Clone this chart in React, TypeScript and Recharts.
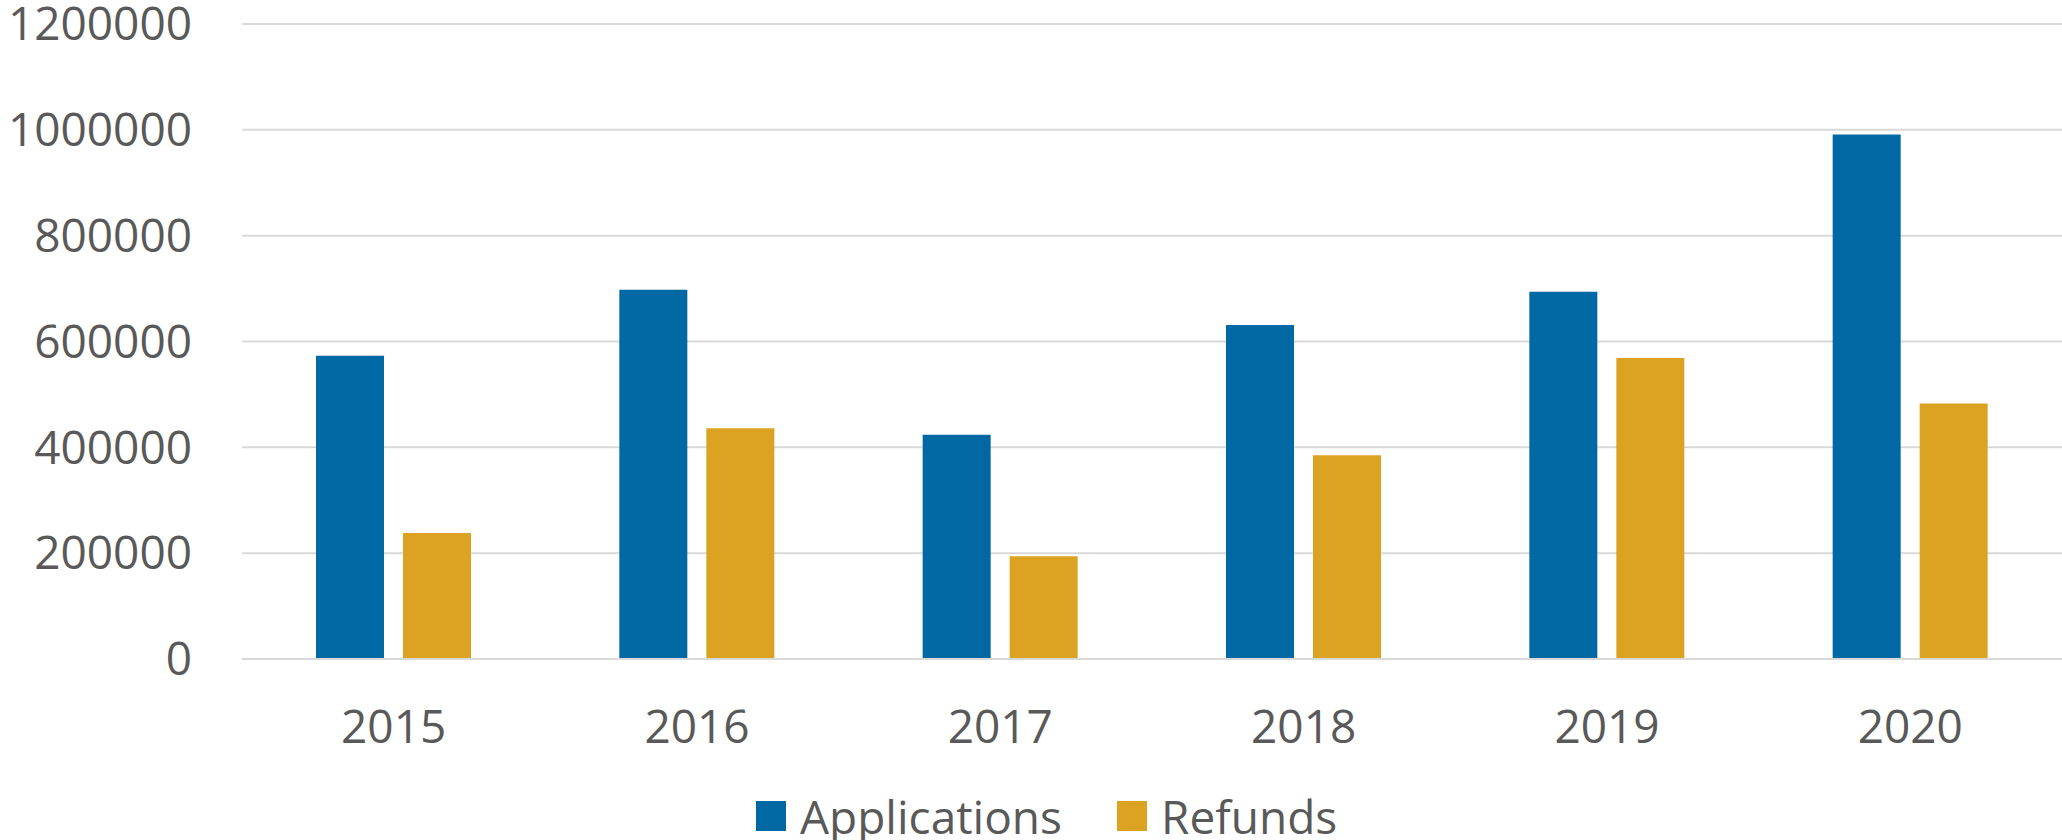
import React from "react";
import { BarChart, Bar, XAxis, YAxis, CartesianGrid } from "recharts";

const years = ["2015", "2016", "2017", "2018", "2019", "2020"];
const applications = [573000, 698000, 424000, 631000, 694000, 991000];
const refunds = [238000, 436000, 194000, 385000, 569000, 483000];
const yTicks = [0, 200000, 400000, 600000, 800000, 1000000, 1200000];

const series = [
  { key: "applications", name: "Applications", color: "#0069A4" },
  { key: "refunds", name: "Refunds", color: "#DCA221" },
];

const data = years.map((year, i) => ({
  year,
  applications: applications[i],
  refunds: refunds[i],
}));

const font = "'Open Sans', sans-serif";
const textColor = "#595959";

export default function App() {
  return (
    <div style={{ position: "absolute", left: 0, top: 0, width: 2062, height: 840, background: "#fff", fontFamily: font }}>
      <BarChart
        width={2062}
        height={840}
        data={data}
        margin={{ top: 24, right: 0, left: 0, bottom: 81 }}
        barSize={68}
        barGap={19}
      >
        <CartesianGrid vertical={false} stroke="#d9d9d9" strokeWidth={2} />
        <XAxis
          dataKey="year"
          height={100}
          tickLine={false}
          tickSize={0}
          tickMargin={51}
          axisLine={{ stroke: "#d9d9d9", strokeWidth: 2 }}
          tick={{ fill: textColor, fontSize: 46, fontFamily: font }}
        />
        <YAxis
          width={242}
          domain={[0, 1200000]}
          ticks={yTicks}
          interval={0}
          tickLine={false}
          axisLine={false}
          tickSize={0}
          tickMargin={50}
          tick={{ fill: textColor, fontSize: 46, fontFamily: font }}
        />
        {series.map((s) => (
          <Bar key={s.key} dataKey={s.key} name={s.name} fill={s.color} isAnimationActive={false} />
        ))}
      </BarChart>
      <div
        style={{
          position: "absolute",
          left: 756,
          top: 793,
          height: 46,
          display: "flex",
          alignItems: "center",
          fontSize: 46,
          lineHeight: 1,
          color: textColor,
        }}
      >
        {series.map((s, i) => (
          <div key={s.key} style={{ display: "flex", alignItems: "center", marginLeft: i === 0 ? 0 : 55 }}>
            <div style={{ width: 30, height: 30, background: s.color, marginRight: 14 }} />
            <span>{s.name}</span>
          </div>
        ))}
      </div>
    </div>
  );
}
